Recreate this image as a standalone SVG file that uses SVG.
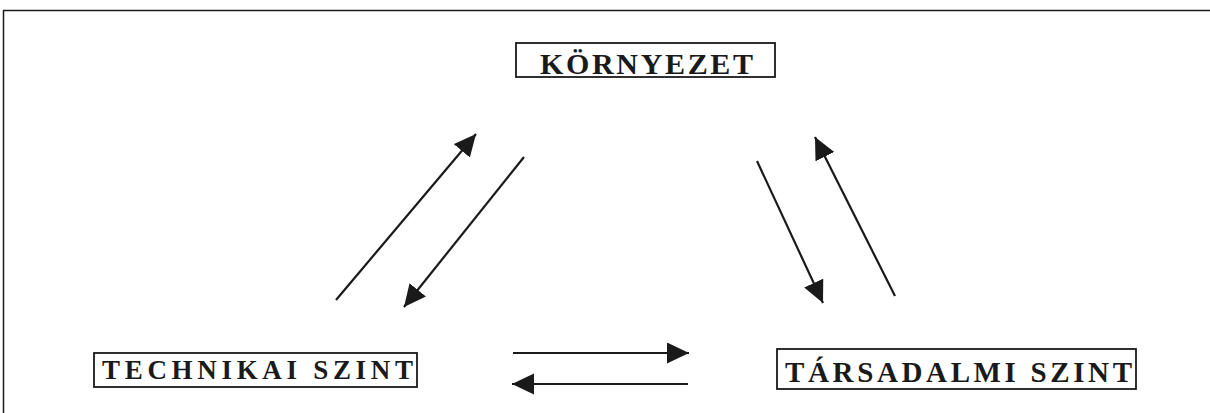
<svg xmlns="http://www.w3.org/2000/svg" width="1210" height="413" viewBox="0 0 1210 413">
  <style>
    .box { fill: #fff; stroke: #1a1a1a; stroke-width: 1.8; }
    .lbl { font-family: "Liberation Serif", "Times New Roman", serif; font-weight: bold; fill: #1a1a1a; }
    .conn { stroke: #1a1a1a; stroke-width: 2.2; fill: none; marker-end: url(#ah); }
    .frame { stroke: #1a1a1a; stroke-width: 1.5; fill: none; }
  </style>
  <defs>
    <marker id="ah" markerUnits="userSpaceOnUse" markerWidth="24" markerHeight="22" refX="22" refY="10.5" orient="auto">
      <path d="M0,0 L22,10.5 L0,21 z" fill="#1a1a1a"/>
    </marker>
  </defs>
  <rect width="1210" height="413" fill="#fff"/>
  <path class="frame" d="M3.5,413 V10.5 H1210"/>

  <g id="kornyezet">
    <rect class="box" x="516" y="43" width="259" height="34"/>
    <text class="lbl" x="540" y="73.5" font-size="30" textLength="213" lengthAdjust="spacing">KÖRNYEZET</text>
  </g>
  <g id="technikai">
    <rect class="box" x="94" y="353" width="323" height="34"/>
    <text class="lbl" x="102" y="378.5" font-size="27" textLength="311" lengthAdjust="spacing">TECHNIKAI SZINT</text>
  </g>
  <g id="tarsadalmi">
    <rect class="box" x="777" y="349" width="359" height="40"/>
    <text class="lbl" x="785" y="381.5" font-size="29" textLength="347" lengthAdjust="spacing">TÁRSADALMI SZINT</text>
  </g>

  <g id="connectors">
    <line class="conn" x1="336" y1="300" x2="476" y2="134"/>
    <line class="conn" x1="524" y1="157" x2="404" y2="307"/>
    <line class="conn" x1="757" y1="161" x2="823" y2="303"/>
    <line class="conn" x1="895" y1="296" x2="815" y2="137"/>
    <line class="conn" x1="513" y1="353" x2="689" y2="353"/>
    <line class="conn" x1="688" y1="384" x2="512" y2="384"/>
  </g>
</svg>
